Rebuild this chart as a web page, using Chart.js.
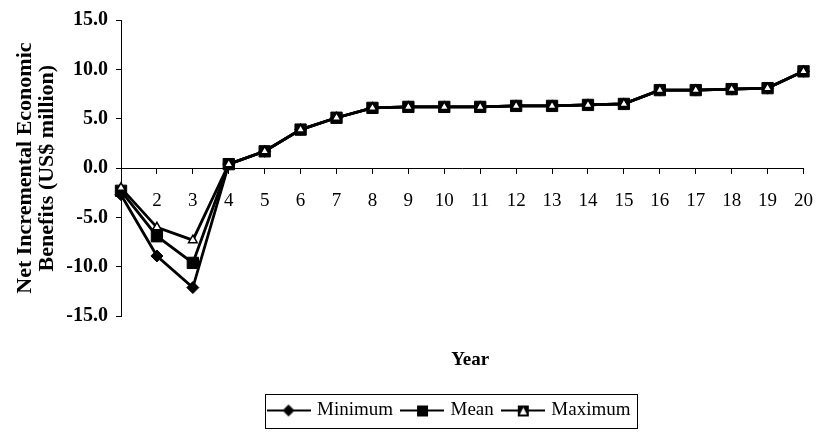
<!DOCTYPE html>
<html>
<head>
<meta charset="utf-8">
<script src="https://cdn.jsdelivr.net/npm/chart.js@4.4.0/dist/chart.umd.min.js"></script>
<style>
  html, body { margin: 0; padding: 0; background: #fff; }
</style>
</head>
<body>
<canvas id="benefits" width="830" height="434"></canvas>
<script>
// years on the x axis
const years = ['1', '2', '3', '4', '5', '6', '7', '8', '9', '10',
  '11', '12', '13', '14', '15', '16', '17', '18', '19', '20'];

// net incremental economic benefits, US$ million
const minimum = [-2.7, -8.9, -12.1, 0.4, 1.7, 3.9, 5.1, 6.1, 6.2, 6.2,
  6.2, 6.3, 6.3, 6.4, 6.5, 7.9, 7.9, 8.0, 8.1, 9.8];
const mean = [-2.3, -6.9, -9.6, 0.4, 1.7, 3.9, 5.1, 6.1, 6.2, 6.2,
  6.2, 6.3, 6.3, 6.4, 6.5, 7.9, 7.9, 8.0, 8.1, 9.8];
const maximum = [-2.0, -6.0, -7.3, 0.4, 1.7, 3.9, 5.1, 6.1, 6.2, 6.2,
  6.2, 6.3, 6.3, 6.4, 6.5, 7.9, 7.9, 8.0, 8.1, 9.8];

const yMin = -15;
const yMax = 15;
const yStep = 5;

const SERIF = "'Liberation Serif', 'Times New Roman', serif";

// small line + marker pictures for the legend (excel style)
function legendMark(kind) {
  let c = document.createElement('canvas');
  c.width = 44;
  c.height = 16;
  let g = c.getContext('2d');
  g.strokeStyle = '#000';
  g.lineWidth = 2;
  g.beginPath();
  g.moveTo(0, 8);
  g.lineTo(44, 8);
  g.stroke();
  g.fillStyle = '#000';
  g.beginPath();
  if (kind === 'diamond') {
    g.moveTo(22, 2); g.lineTo(28, 8); g.lineTo(22, 14); g.lineTo(16, 8);
    g.closePath();
    g.fill();
  } else if (kind === 'square') {
    g.fillRect(17, 3, 11, 11);
  } else {
    g.fillRect(17, 3, 11, 11);
    g.fillStyle = '#fff';
    g.moveTo(22.5, 5); g.lineTo(26, 12); g.lineTo(19, 12);
    g.closePath();
    g.fill();
  }
  return c;
}

const marks = [legendMark('diamond'), legendMark('square'), legendMark('triangle')];

// legend and "Year" in the source sit a bit right of where chart.js centres them
const blockShift = {
  id: 'blockShift',
  afterLayout(chart) {
    chart.legend.left += 41;
    chart.legend.right += 41;
    chart.titleBlock.left += 8;
    chart.titleBlock.right += 8;
  }
};

// thin frame round the legend items
const legendFrame = {
  id: 'legendFrame',
  afterDraw(chart) {
    let boxes = chart.legend && chart.legend.legendHitBoxes;
    if (!boxes || !boxes.length) return;
    let left = Math.min(...boxes.map(b => b.left)) - 5;
    let right = Math.max(...boxes.map(b => b.left + b.width)) + 6;
    let mid = boxes[0].top + boxes[0].height / 2;
    let ctx = chart.ctx;
    ctx.save();
    ctx.strokeStyle = '#000';
    ctx.lineWidth = 1;
    ctx.strokeRect(Math.round(left) + 0.5, Math.round(mid - 17) + 0.5,
      Math.round(right - left), 34);
    ctx.restore();
  }
};

const data = {
  labels: years,
  datasets: [
    {
      label: 'Minimum',
      data: minimum,
      borderColor: '#000',
      backgroundColor: '#000',
      borderWidth: 2.8,
      pointStyle: 'rectRot',
      pointRadius: 6,
      pointBorderWidth: 1,
      order: 2
    },
    {
      label: 'Mean',
      data: mean,
      borderColor: '#000',
      backgroundColor: '#000',
      borderWidth: 2.8,
      pointStyle: 'rect',
      pointRadius: 8,
      pointBorderWidth: 1,
      order: 1
    },
    {
      label: 'Maximum',
      data: maximum,
      borderColor: '#000',
      backgroundColor: '#fff',
      borderWidth: 2.8,
      pointStyle: 'triangle',
      pointRadius: 5,
      pointBorderWidth: 1.5,
      order: 0
    }
  ]
};

const config = {
  type: 'line',
  data: data,
  options: {
    responsive: false,
    animation: false,
    devicePixelRatio: 1,
    layout: {
      padding: { left: 0, right: 12, top: 14, bottom: 4 }
    },
    elements: {
      line: { tension: 0 }
    },
    scales: {
      x: {
        type: 'category',
        position: { y: 0 },
        offset: false,
        grid: {
          display: true,
          drawOnChartArea: false,
          tickLength: 5,
          color: '#000'
        },
        border: { display: true, color: '#000', width: 1 },
        ticks: {
          autoSkip: false,
          maxRotation: 0,
          padding: 17,
          color: '#000',
          font: { family: SERIF, size: 19 },
          // year 1 sits on the value axis, its label is left off
          callback: function (value, index) {
            return index === 0 ? '' : this.getLabelForValue(value);
          }
        }
      },
      y: {
        min: yMin,
        max: yMax,
        afterFit: function (scale) {
          scale.width = 121;
        },
        grid: {
          display: true,
          drawOnChartArea: false,
          tickLength: 5,
          color: '#000'
        },
        border: { display: true, color: '#000', width: 1 },
        ticks: {
          stepSize: yStep,
          padding: 8,
          color: '#000',
          font: { family: SERIF, size: 20, weight: 'bold' },
          callback: v => v.toFixed(1)
        },
        title: {
          display: true,
          text: ['Net Incremental Economic', 'Benefits (US$ million)'],
          color: '#000',
          padding: { top: 14, bottom: 0 },
          font: { family: SERIF, size: 22, weight: 'bold', lineHeight: 1.0 }
        }
      }
    },
    plugins: {
      tooltip: { enabled: false },
      title: {
        display: true,
        text: 'Year',
        position: 'bottom',
        fullSize: false,
        weight: 500,
        color: '#000',
        padding: { top: 32, bottom: 20 },
        font: { family: SERIF, size: 19, weight: 'bold' }
      },
      legend: {
        position: 'bottom',
        labels: {
          usePointStyle: true,
          pointStyleWidth: 38,
          padding: 10,
          color: '#000',
          font: { family: SERIF, size: 19 },
          sort: (a, b) => a.datasetIndex - b.datasetIndex,
          generateLabels: function (chart) {
            let items = Chart.defaults.plugins.legend.labels.generateLabels(chart);
            items.forEach(it => { it.pointStyle = marks[it.datasetIndex]; });
            return items;
          }
        }
      }
    }
  },
  plugins: [blockShift, legendFrame]
};

const myChart = new Chart(document.getElementById('benefits'), config);
</script>
</body>
</html>
